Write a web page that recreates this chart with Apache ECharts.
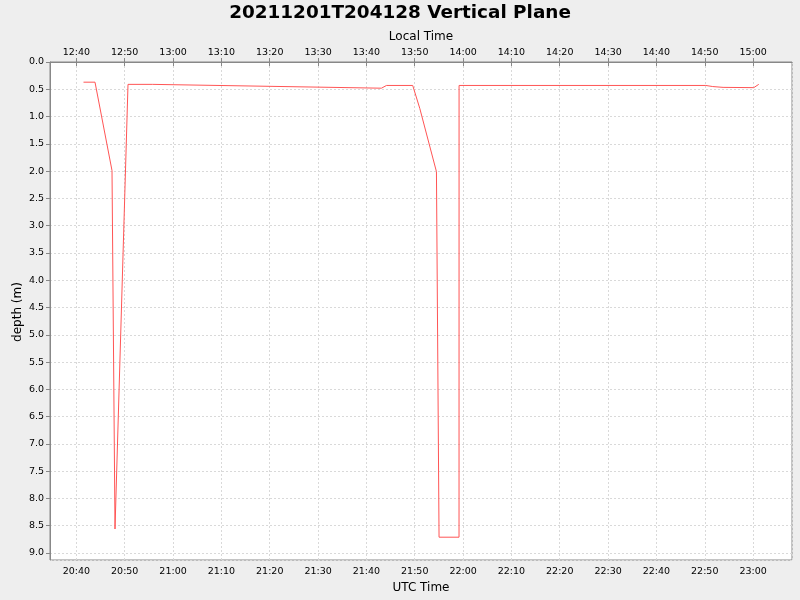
<!DOCTYPE html>
<html>
<head>
<meta charset="utf-8">
<script src="https://cdn.jsdelivr.net/npm/echarts@6/dist/echarts.min.js"></script>
<style>
html,body{margin:0;padding:0;background:#eeeeee;}
#chart{width:800px;height:600px;}
</style>
</head>
<body>
<div id="chart"></div>
<script>
// Time in minutes since UTC midnight; depth in metres
var timesUTC = [1241.47, 1243.85, 1247.37, 1247.99, 1250.68, 1255.79, 1303.11, 1303.45, 1304.16, 1309.58, 1311.04, 1314.49, 1315.03, 1319.16, 1319.17, 1370.21, 1370.35, 1371.65, 1373.79, 1380.14, 1381.17];
var depths   = [0.37,    0.37,    1.99,    8.56,    0.41,    0.41,    0.48,    0.46,    0.43,    0.43,    0.85,    2.01,    8.71,    8.71,    0.43,    0.43,    0.44,    0.45,    0.465,   0.47,    0.41];
var localOffsetMin = -480;
var xMin = 1234.54, xMax = 1388.05;
var yMin = 0, yMax = 9.128;
var yAxisTitle = 'depth (m)';

function hhmm(v) {
  var m = Math.round(v);
  m = ((m % 1440) + 1440) % 1440;
  var h = Math.floor(m / 60), mm = m % 60;
  return (h < 10 ? '0' : '') + h + ':' + (mm < 10 ? '0' : '') + mm;
}
function isTen(v) { return Math.abs(v / 10 - Math.round(v / 10)) < 1e-6; }

var data = timesUTC.map(function (t, i) { return [t, depths[i]]; });
var FONT = 'DejaVu Sans';
var chart = echarts.init(document.getElementById('chart'), null, {renderer: 'canvas'});
chart.setOption({
  backgroundColor: '#eeeeee',
  animation: false,
  title: {
    text: '20211201T204128 Vertical Plane',
    left: 'center', top: -1,
    textStyle: {fontFamily: FONT, fontWeight: 'bold', fontSize: 18.4, color: '#000'}
  },
  graphic: [{
    type: 'text', x: 18, y: 312, rotation: Math.PI / 2,
    style: {text: yAxisTitle, fontFamily: FONT, fontSize: 12, fill: '#000', align: 'center', verticalAlign: 'middle'}
  }],
  grid: {left: 50, right: 8, top: 62, bottom: 40, show: true, containLabel: false, outerBoundsMode: 'none',
    backgroundColor: '#ffffff', borderColor: '#888888', borderWidth: 1},
  xAxis: [{
    type: 'value', position: 'bottom', min: xMin, max: xMax,
    minInterval: 10, maxInterval: 10,
    name: 'UTC Time', nameLocation: 'middle', nameGap: 21,
    nameTextStyle: {fontFamily: FONT, fontSize: 12, color: '#000'},
    axisLine: {show: true, lineStyle: {color: '#888888'}},
    axisTick: {show: true, length: 4, lineStyle: {color: '#888888'}},
    axisLabel: {fontFamily: FONT, fontSize: 9.5, color: '#000', margin: 7, showMinLabel: false, showMaxLabel: false,
      formatter: function (v) { return isTen(v) ? hhmm(v) : ''; }},
    splitLine: {show: true, lineStyle: {color: '#d9d9d9', type: [2, 2], width: 1}}
  }, {
    type: 'value', position: 'top', min: xMin, max: xMax,
    minInterval: 10, maxInterval: 10,
    name: 'Local Time', nameLocation: 'middle', nameGap: 18,
    nameTextStyle: {fontFamily: FONT, fontSize: 12, color: '#000'},
    axisLine: {show: true, lineStyle: {color: '#888888'}},
    axisTick: {show: true, length: 4, lineStyle: {color: '#888888'}},
    axisLabel: {fontFamily: FONT, fontSize: 9.5, color: '#000', margin: 4, showMinLabel: false, showMaxLabel: false,
      formatter: function (v) { return isTen(v) ? hhmm(v + localOffsetMin) : ''; }},
    splitLine: {show: false}
  }],
  yAxis: {
    type: 'value', inverse: true, min: yMin, max: yMax, interval: 0.5,
    axisLine: {show: true, lineStyle: {color: '#888888'}},
    axisTick: {show: true, length: 4, lineStyle: {color: '#888888'}},
    axisLabel: {fontFamily: FONT, fontSize: 9.5, color: '#000', margin: 6, showMaxLabel: false,
      formatter: function (v) { return Math.abs(v * 2 - Math.round(v * 2)) < 1e-6 ? v.toFixed(1) : ''; }},
    splitLine: {show: true, lineStyle: {color: '#d9d9d9', type: [2, 2], width: 1}}
  },
  series: [{
    type: 'line', xAxisIndex: 0, data: data, showSymbol: false, symbol: 'none',
    lineStyle: {color: '#ff5555', width: 1}, itemStyle: {color: '#ff5555'}
  }]
});
</script>
</body>
</html>
